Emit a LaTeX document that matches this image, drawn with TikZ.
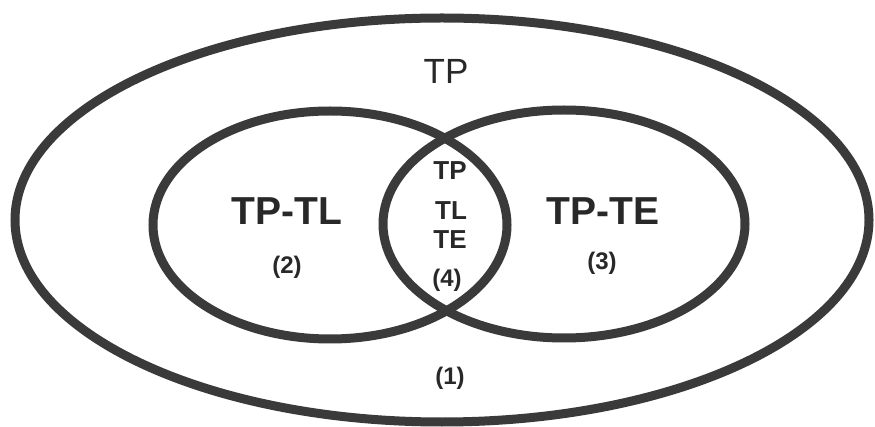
\documentclass[tikz,border=0pt]{standalone}
\usepackage{fontspec}
\setmainfont{Liberation Sans}
\usetikzlibrary{shapes.geometric}
\definecolor{ink}{RGB}{58,58,58}
\definecolor{txt}{RGB}{40,40,40}
\tikzset{
  ring/.style={draw=ink, line width=9pt, ellipse, inner sep=0pt, fill=none},
  bigtxt/.style={text=txt, font=\fontsize{39}{39}\selectfont\bfseries, inner sep=0pt},
  midtxt/.style={text=txt, font=\fontsize{26}{26}\selectfont\bfseries, inner sep=0pt},
  numtxt/.style={text=txt, font=\fontsize{24}{24}\selectfont\bfseries, inner sep=0pt},
  toptxt/.style={text=txt, font=\fontsize{35}{35}\selectfont, inner sep=0pt}
}
\begin{document}
\begin{tikzpicture}[x=1pt,y=-1pt]
\useasboundingbox (0,0) rectangle (875,427);
\node[ring, minimum width=854pt, minimum height=404pt] (outer) at (442,220) {};
\node[ring, minimum width=354pt, minimum height=228pt] (left) at (330,225) {};
\node[ring, minimum width=362pt, minimum height=228pt] (right) at (564,224) {};
\node[toptxt] (tp) at (446,71) {TP};
\node[bigtxt] (tptl) at (287,211) {TP-TL};
\node[bigtxt] (tpte) at (603,211) {TP-TE};
\node[numtxt] (n2) at (287,267) {(2)};
\node[numtxt] (n3) at (602,263) {(3)};
\node[midtxt] (m1) at (450,171) {TP};
\node[midtxt] (m2) at (451,211) {TL};
\node[midtxt] (m3) at (450,240) {TE};
\node[numtxt] (n4) at (447,280) {(4)};
\node[numtxt] (n1) at (450,378) {(1)};
\end{tikzpicture}
\end{document}
